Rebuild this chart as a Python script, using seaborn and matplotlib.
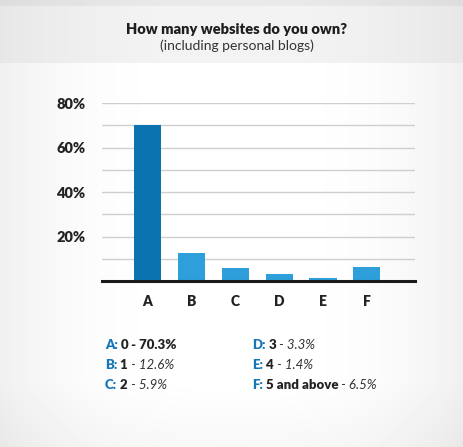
import numpy as np
import pandas as pd
import matplotlib.pyplot as plt
import seaborn as sns

# data
categories = ["A", "B", "C", "D", "E", "F"]
answers = ["0", "1", "2", "3", "4", "5 and above"]
shares = [70.3, 12.6, 5.9, 3.3, 1.4, 6.5]
bar_colors = ["#0a74b0", "#2e9fdb", "#2e9fdb", "#2e9fdb", "#2e9fdb", "#2e9fdb"]

df = pd.DataFrame({"cat": categories, "share": shares})

sns.set_style("white")
plt.rcParams["font.family"] = ["Lato", "DejaVu Sans"]

fig = plt.figure(figsize=(4.63, 4.47), dpi=100)

# background: grey header band and soft vignette
bg = fig.add_axes([0, 0, 1, 1], zorder=-10)
h, w = 447, 463
yy, xx = np.mgrid[0:h, 0:w]
dx = (xx - w / 2) / (w / 2)
img = 1.0 - 0.06 * np.clip(np.abs(dx) ** 3, 0, 1)
img = img - 0.03 * np.clip((yy - 380) / 67, 0, 1)
head = yy < 63
img[head] = 0.955 - 0.05 * np.clip(np.abs(dx[head]) ** 2, 0, 1) - 0.04 * (yy[head] < 6)
bg.imshow(img, cmap="gray", vmin=0, vmax=1, aspect="auto", extent=[0, 1, 0, 1])
bg.axis("off")

ax = fig.add_axes([0.2203, 0.3714, 0.676, 0.398])
sns.barplot(data=df, x="cat", y="share", hue="cat", palette=bar_colors,
            saturation=1, linewidth=0, legend=False, width=0.62, ax=ax, zorder=3)

ax.set_xlim(-1.04, 6.1)
ax.set_ylim(0, 80)
ax.set_yticks(np.arange(10, 81, 10))
ax.set_yticklabels(["" if v % 20 else f"{v}%" for v in range(10, 81, 10)],
                   fontweight="heavy")
ax.set_xticks(range(len(categories)))
ax.set_xticklabels(categories, fontweight="heavy")
ax.yaxis.grid(True, color="#cfcfcf", linewidth=1, zorder=0)
ax.set_axisbelow(True)
ax.set_facecolor("none")
for s in ["top", "right", "left"]:
    ax.spines[s].set_visible(False)
ax.spines["bottom"].set_color("#1a1a1a")
ax.spines["bottom"].set_linewidth(2.2)
ax.spines["bottom"].set_zorder(5)
ax.tick_params(axis="y", length=0, pad=12, labelsize=10.5, labelcolor="#222222")
ax.tick_params(axis="x", length=0, pad=10, labelsize=10, labelcolor="#222222")
ax.set_xlabel("")
ax.set_ylabel("")

fig.text(0.512, 0.935, "How many websites do you own?", ha="center", va="center",
         fontsize=10.5, fontweight="heavy", color="#1e1e1e")
fig.text(0.512, 0.897, "(including personal blogs)", ha="center", va="center",
         fontsize=10, color="#333333")

# legend text below the chart
pos = [(105, 345), (105, 365), (105, 385), (252, 345), (252, 365), (252, 385)]
for i, (c, a, p) in enumerate(zip(categories, answers, shares)):
    x, y = pos[i]
    t1 = fig.text(x / w, 1 - y / h, c + ":", fontsize=9.5, fontweight="heavy",
                  color="#1577b8", va="center", ha="left")
    t2 = ax.annotate(" " + a, xy=(1, 0), xycoords=t1, va="bottom", ha="left",
                     fontsize=9.5, fontweight="heavy", color="#222222",
                     annotation_clip=False)
    if i == 0:
        ax.annotate(f" - {p}%", xy=(1, 0), xycoords=t2, va="bottom", ha="left",
                    fontsize=9.5, fontweight="heavy", color="#222222",
                    annotation_clip=False)
    else:
        ax.annotate(f" - {p}%", xy=(1, 0), xycoords=t2, va="bottom", ha="left",
                    fontsize=9.5, style="italic", color="#333333",
                    annotation_clip=False)

fig.savefig("out.png", dpi=100)
